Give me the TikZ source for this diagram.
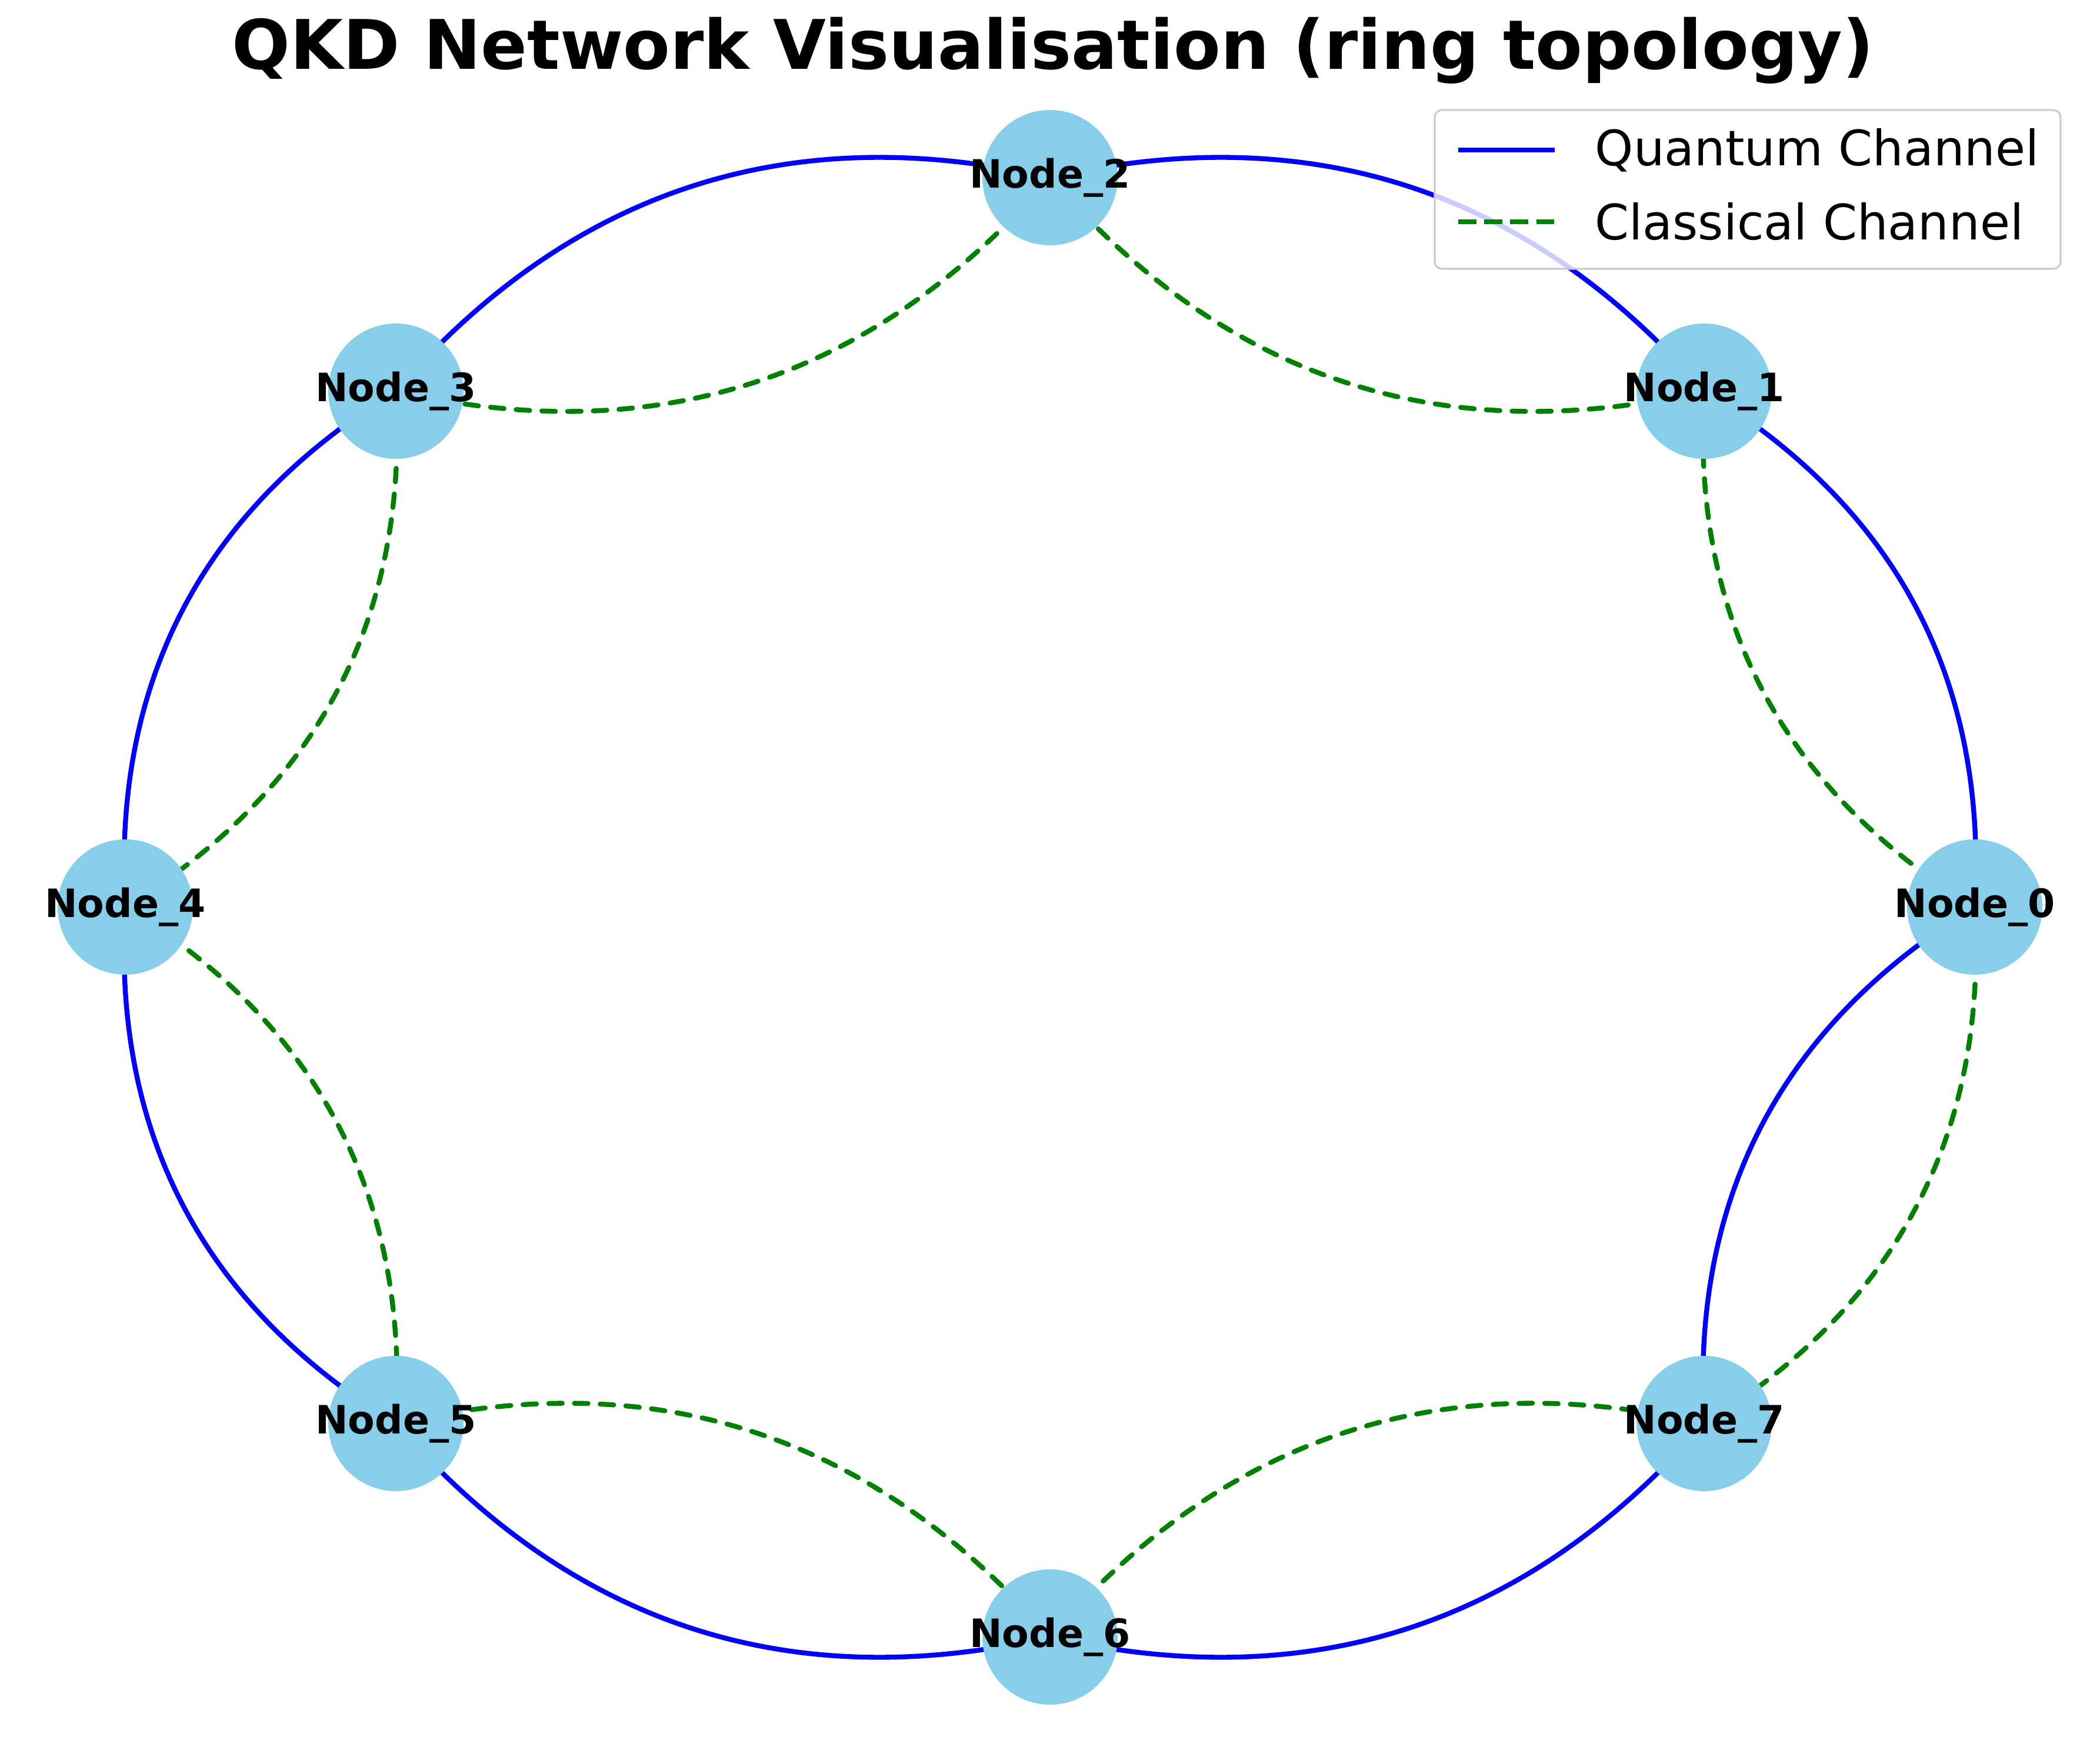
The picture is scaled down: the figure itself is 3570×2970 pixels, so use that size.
\documentclass[tikz,border=0pt]{standalone}
\usepackage{fontspec}
\setmainfont{DejaVu Sans}
\usetikzlibrary{positioning}
\usetikzlibrary{backgrounds}
\definecolor{skyblue}{HTML}{87CEEB}
\definecolor{qblue}{RGB}{0,0,255}
\definecolor{cgreen}{HTML}{008000}
\definecolor{legframe}{gray}{0.8}
\tikzset{
  qkdnode/.style={circle, fill=skyblue, inner sep=0pt, minimum size=55.2bp,
    font=\fontsize{16}{19}\selectfont\bfseries},
  quantum/.style={draw=qblue, line width=2bp},
  classical/.style={draw=cgreen, line width=2bp, dash pattern=on 5.5bp off 5bp, line cap=round},
  qring/.style={bend right=30.96, looseness=0.993},
  cring/.style={bend left=30.96, looseness=0.993},
  legtext/.style={inner sep=0pt, anchor=west, font=\fontsize{20}{24}\selectfont}
}

\begin{document}
\begin{tikzpicture}[x=0.24bp, y=0.24bp]
\useasboundingbox (0,0) rectangle (3570,-2970);

 % Title
 \node[font=\fontsize{28}{34}\selectfont\bfseries, anchor=base] (title) at (1790,-118)
    {QKD Network Visualisation (ring topology)};

 % Ring nodes
 \node[qkdnode] (n0) at (3357,-1542) {\makebox[0pt]{Node\_0}};
 \node[qkdnode] (n1) at (2897,-665) {\makebox[0pt]{Node\_1}};
 \node[qkdnode] (n2) at (1785,-302) {\makebox[0pt]{Node\_2}};
 \node[qkdnode] (n3) at (673,-665) {\makebox[0pt]{Node\_3}};
 \node[qkdnode] (n4) at (213,-1542) {\makebox[0pt]{Node\_4}};
 \node[qkdnode] (n5) at (673,-2420) {\makebox[0pt]{Node\_5}};
 \node[qkdnode] (n6) at (1785,-2783) {\makebox[0pt]{Node\_6}};
 \node[qkdnode] (n7) at (2897,-2420) {\makebox[0pt]{Node\_7}};

\begin{pgfonlayer}{background}
 % Quantum channels
 \draw[quantum] (n0.center) to[qring] (n1.center);
 \draw[quantum] (n1.center) to[qring] (n2.center);
 \draw[quantum] (n2.center) to[qring] (n3.center);
 \draw[quantum] (n3.center) to[qring] (n4.center);
 \draw[quantum] (n4.center) to[qring] (n5.center);
 \draw[quantum] (n5.center) to[qring] (n6.center);
 \draw[quantum] (n6.center) to[qring] (n7.center);
 \draw[quantum] (n0.center) to[qring] (n7.center);

 % Classical channels
 \draw[classical] (n0.center) to[cring] (n1.center);
 \draw[classical] (n1.center) to[cring] (n2.center);
 \draw[classical] (n2.center) to[cring] (n3.center);
 \draw[classical] (n3.center) to[cring] (n4.center);
 \draw[classical] (n4.center) to[cring] (n5.center);
 \draw[classical] (n5.center) to[cring] (n6.center);
 \draw[classical] (n6.center) to[cring] (n7.center);
 \draw[classical] (n0.center) to[cring] (n7.center);
\end{pgfonlayer}

 % Legend
 \draw[draw=legframe, line width=0.8bp, fill=white, fill opacity=0.8, rounded corners=3bp]
    (2439,-187) rectangle (3503,-457);
 \coordinate (qa) at (2479,-255);
 \coordinate (qb) at (2643,-255);
 \draw[quantum] (qa) -- (qb);
 \node[legtext, right=16.3bp of qb] (qlab) {Quantum Channel};
 \coordinate (ca) at (2479,-377);
 \coordinate (cb) at (2643,-377);
 \draw[classical, line cap=butt, dash pattern=on 7.4bp off 3.2bp] (ca) -- (cb);
 \node[legtext, right=16.3bp of cb] (clab) {Classical Channel};
\end{tikzpicture}
\end{document}
